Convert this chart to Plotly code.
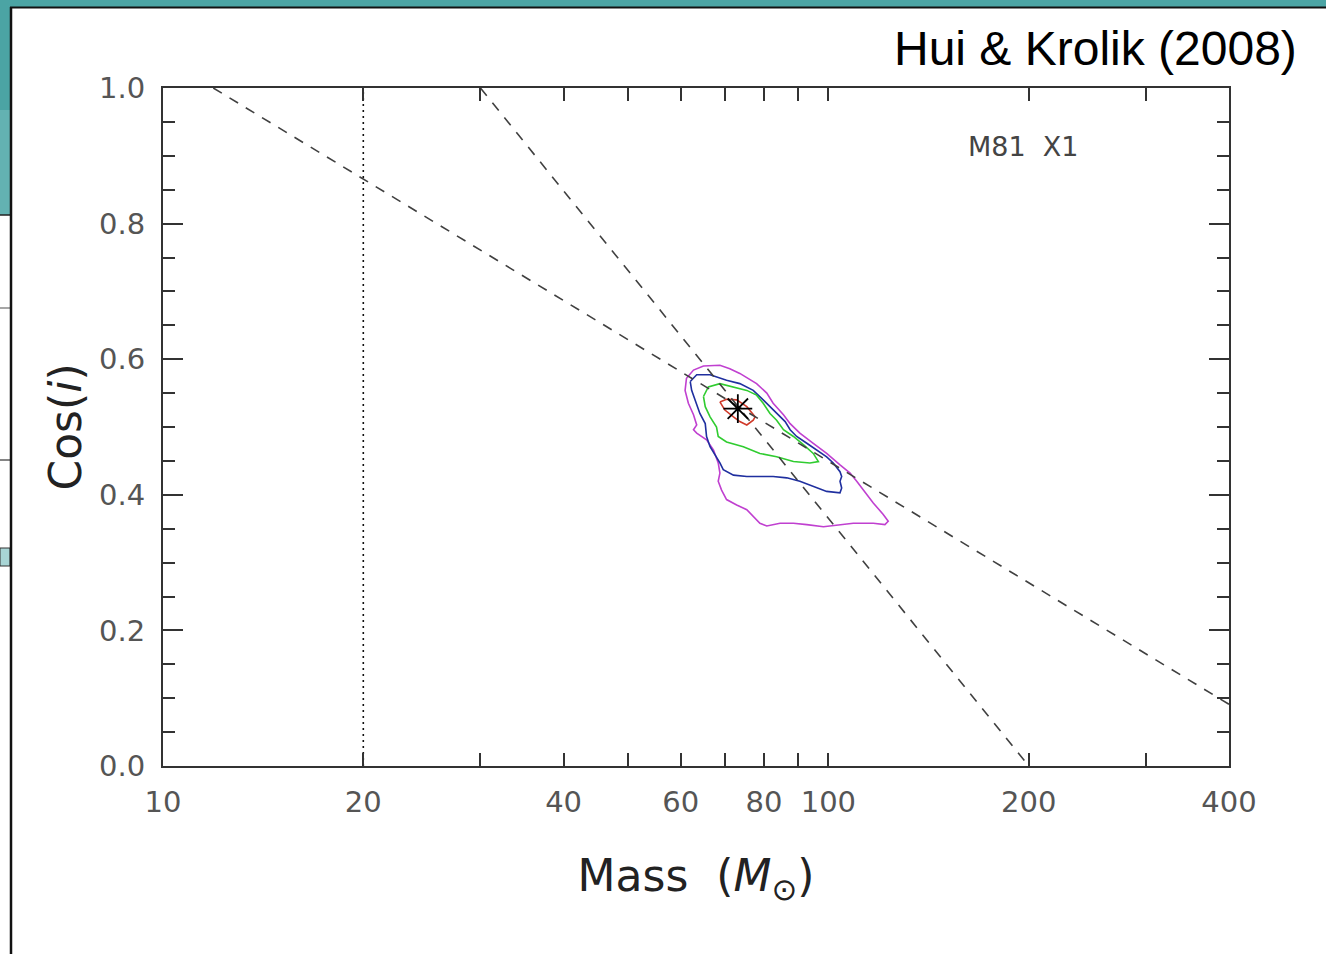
import plotly.graph_objects as go

# ---------------- data ----------------
# dashed model lines (mass in solar masses, cos i)
line1_mass = [11.9, 400.0]
line1_cos = [1.0, 0.091]
line2_mass = [30.0, 200.0]
line2_cos = [1.0, 0.0]
# dotted vertical lower limit
limit_mass = [20.0, 20.0]
limit_cos = [0.0, 1.0]
# best fit
best_mass = [73.1]
best_cos = [0.527]

# confidence contours
magenta_mass = [61.2, 62.7, 64.9, 68.7, 71.1, 73.6, 78.0, 80.8, 82.6, 85.6, 87.6, 90.6, 94.9, 99.4,
                104.1, 107.8, 110.3, 112.8, 116.8, 120.9, 123.0, 121.6, 116.8, 109.0, 104.1, 98.3,
                92.8, 88.6, 84.6, 80.8, 78.9, 77.1, 75.4, 72.8, 70.3, 69.1, 68.3, 68.7, 68.3, 67.2,
                65.6, 63.4, 62.7, 63.4, 62.7, 61.6, 60.9, 61.2]
magenta_cos = [0.572, 0.584, 0.590, 0.591, 0.586, 0.579, 0.564, 0.550, 0.535, 0.518, 0.505, 0.491,
               0.476, 0.461, 0.444, 0.432, 0.420, 0.407, 0.388, 0.371, 0.361, 0.356, 0.358, 0.358,
               0.356, 0.353, 0.356, 0.358, 0.358, 0.354, 0.358, 0.368, 0.378, 0.385, 0.393, 0.407,
               0.420, 0.432, 0.447, 0.466, 0.481, 0.491, 0.496, 0.503, 0.518, 0.535, 0.554, 0.572]

blue_mass = [62.0, 63.4, 66.4, 70.3, 73.6, 77.1, 79.8, 82.2, 84.1, 86.1, 87.6, 89.6, 92.8, 96.0,
             99.4, 101.7, 104.1, 104.7, 104.1, 104.7, 104.1, 99.4, 94.9, 90.6, 86.6, 82.6, 78.9,
             75.4, 72.0, 69.5, 68.7, 67.9, 66.4, 65.6, 65.3, 64.1, 63.0, 62.3, 62.0]
blue_cos = [0.567, 0.577, 0.577, 0.569, 0.564, 0.554, 0.540, 0.528, 0.518, 0.508, 0.496, 0.486,
            0.476, 0.466, 0.456, 0.447, 0.434, 0.427, 0.420, 0.410, 0.403, 0.405, 0.412, 0.420,
            0.425, 0.427, 0.427, 0.427, 0.429, 0.437, 0.447, 0.456, 0.471, 0.486, 0.505, 0.520,
            0.540, 0.554, 0.567]

green_mass = [64.9, 66.0, 68.7, 72.0, 75.4, 78.0, 79.8, 81.7, 83.6, 85.6, 88.6, 91.7, 94.9, 96.6,
              93.8, 88.6, 83.6, 78.9, 74.5, 70.3, 68.3, 67.9, 66.4, 65.3, 64.9]
green_cos = [0.545, 0.559, 0.564, 0.559, 0.554, 0.547, 0.535, 0.520, 0.510, 0.496, 0.486, 0.474,
             0.461, 0.449, 0.447, 0.449, 0.456, 0.461, 0.471, 0.478, 0.486, 0.500, 0.515, 0.530,
             0.545]

red_mass = [68.7, 70.3, 72.8, 75.4, 77.6, 77.1, 75.4, 73.6, 72.0, 69.9, 68.7]
red_cos = [0.537, 0.541, 0.540, 0.530, 0.515, 0.510, 0.503, 0.508, 0.515, 0.525, 0.537]

x_tickvals = [10, 20, 40, 60, 80, 100, 200, 400]
x_minorvals = [30, 50, 70, 90, 300]
y_tickvals = [0.0, 0.2, 0.4, 0.6, 0.8, 1.0]

title_text = "Hui &amp; Krolik (2008)"
object_text = "M81  X1"

# ---------------- figure ----------------
W, H = 1326, 954
L, R, T, B = 163, 1229, 88, 766


def px(x):
    return (x - L) / (R - L)


def py(y):
    return (B - y) / (B - T)


fig = go.Figure()

for m, c, col in [(magenta_mass, magenta_cos, "#c040d0"),
                  (blue_mass, blue_cos, "#1f2f9f"),
                  (green_mass, green_cos, "#30cc30"),
                  (red_mass, red_cos, "#d03a2a")]:
    fig.add_trace(go.Scatter(x=m, y=c, mode="lines", line=dict(color=col, width=1.6),
                             showlegend=False, hoverinfo="skip"))

fig.add_trace(go.Scatter(x=line1_mass, y=line1_cos, mode="lines",
                         line=dict(color="#404040", width=1.6, dash="10px,9px"),
                         showlegend=False, hoverinfo="skip"))
fig.add_trace(go.Scatter(x=line2_mass, y=line2_cos, mode="lines",
                         line=dict(color="#404040", width=1.6, dash="10px,9px"),
                         showlegend=False, hoverinfo="skip"))
fig.add_trace(go.Scatter(x=limit_mass, y=limit_cos, mode="lines",
                         line=dict(color="#111111", width=1.6, dash="2px,4px"),
                         showlegend=False, hoverinfo="skip"))
fig.add_trace(go.Scatter(x=best_mass, y=best_cos, mode="markers",
                         marker=dict(symbol="asterisk-open", size=24, color="black",
                                     line=dict(color="black", width=1.8)),
                         showlegend=False, hoverinfo="skip"))

teal = "#4ba4a4"
teal2 = "#63b2b2"
shapes = [
    # slide background behind the figure panel
    dict(type="rect", xref="paper", yref="paper", x0=px(0), x1=px(W), y0=py(0), y1=py(7),
         fillcolor=teal, line=dict(width=0), layer="below"),
    dict(type="rect", xref="paper", yref="paper", x0=px(0), x1=px(10), y0=py(0), y1=py(110),
         fillcolor=teal, line=dict(width=0), layer="below"),
    dict(type="rect", xref="paper", yref="paper", x0=px(0), x1=px(10), y0=py(110), y1=py(215),
         fillcolor=teal2, line=dict(width=0), layer="below"),
    dict(type="rect", xref="paper", yref="paper", x0=px(0), x1=px(10), y0=py(548), y1=py(566),
         fillcolor="#a8d5d5", line=dict(color="#333", width=1), layer="below"),
    dict(type="line", xref="paper", yref="paper", x0=px(0), x1=px(10), y0=py(215), y1=py(215),
         line=dict(color="#222", width=1.5)),
    dict(type="line", xref="paper", yref="paper", x0=px(0), x1=px(10), y0=py(308), y1=py(308),
         line=dict(color="#888", width=1.5)),
    dict(type="line", xref="paper", yref="paper", x0=px(0), x1=px(10), y0=py(460), y1=py(460),
         line=dict(color="#333", width=1.2)),
    # panel border
    dict(type="line", xref="paper", yref="paper", x0=px(10), x1=px(W), y0=py(7.5), y1=py(7.5),
         line=dict(color="#111", width=2)),
    dict(type="line", xref="paper", yref="paper", x0=px(11), x1=px(11), y0=py(7), y1=py(H),
         line=dict(color="#111", width=2.5)),
]

annotations = [
    dict(text=title_text, xref="paper", yref="paper", x=px(1299), y=py(48),
         xanchor="right", yanchor="middle", showarrow=False,
         font=dict(family="Liberation Sans, Arial", size=48, color="black")),
    dict(text=object_text, xref="paper", yref="paper", x=px(1023), y=py(147),
         xanchor="center", yanchor="middle", showarrow=False,
         font=dict(family="DejaVu Sans", size=27, color="#444")),
]

axis_font = dict(family="DejaVu Sans", size=29, color="#555")

fig.update_layout(
    width=W, height=H,
    margin=dict(l=L, r=W - R, t=T, b=H - B),
    paper_bgcolor="white", plot_bgcolor="white",
    shapes=shapes, annotations=annotations,
    xaxis=dict(type="log", range=[1, 2.60206], tickmode="array", tickvals=x_tickvals,
               ticktext=[str(v) for v in x_tickvals],
               ticks="inside", ticklen=13, tickwidth=1.6, tickcolor="#333",
               minor=dict(tickmode="array", tickvals=x_minorvals, ticks="inside", ticklen=13,
                          tickwidth=1.6, tickcolor="#333", showgrid=False),
               showline=True, linecolor="#333", linewidth=2, mirror="allticks",
               showgrid=False, zeroline=False, tickfont=axis_font, ticklabelstandoff=9,
               title=dict(text="Mass  (<i>M</i><sub>⊙</sub>)",
                          font=dict(family="DejaVu Sans", size=44, color="#222"),
                          standoff=42)),
    yaxis=dict(range=[0, 1], tickvals=y_tickvals, tickformat=".1f",
               ticks="inside", ticklen=20, tickwidth=1.6, tickcolor="#333",
               minor=dict(dtick=0.05, ticks="inside", ticklen=12, tickwidth=1.6,
                          tickcolor="#333", showgrid=False),
               showline=True, linecolor="#333", linewidth=2, mirror="allticks",
               showgrid=False, zeroline=False, tickfont=axis_font, ticklabelstandoff=10,
               title=dict(text="Cos(<i>i</i>)",
                          font=dict(family="DejaVu Sans", size=44, color="#222"),
                          standoff=4)),
)

fig.write_html("out.html")
